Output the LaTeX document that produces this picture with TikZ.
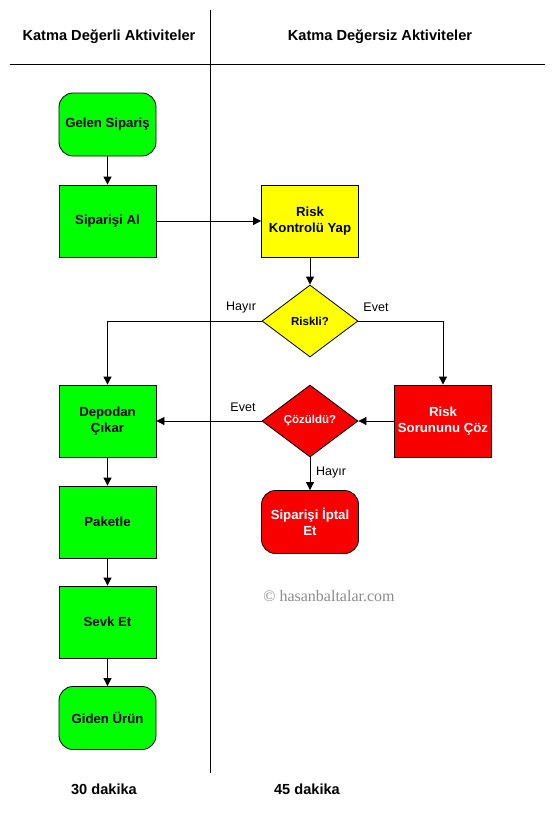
\documentclass[tikz,border=0pt]{standalone}
\usepackage{fontspec}
\setmainfont{Liberation Sans}
\newfontfamily\wmfont{Liberation Serif}
\usetikzlibrary{arrows.meta,shapes.geometric}
\definecolor{actgreen}{HTML}{00FF00}
\definecolor{actyellow}{HTML}{FFFF00}
\definecolor{actred}{HTML}{F80000}
\tikzset{
  box/.style={draw,line width=0.8pt,minimum width=97pt,minimum height=72pt,align=center,font=\bfseries\fontsize{13.2}{16}\selectfont},
  roundbox/.style={box,rounded corners=14pt,minimum height=63pt},
  decision/.style={draw,line width=0.8pt,diamond,inner sep=0pt,minimum width=96pt,minimum height=72pt,align=center,font=\bfseries\fontsize{11.5}{13}\selectfont},
  arr/.style={line width=0.8pt,-{Triangle[length=8pt,width=8pt]}},
  lbl/.style={font=\fontsize{12.5}{14}\selectfont},
  head/.style={font=\bfseries\fontsize{14.6}{16}\selectfont}
}
\begin{document}
\begin{tikzpicture}[x=1pt,y=-1pt]
  \useasboundingbox (0,0) rectangle (555,814);
  % swimlanes
  \draw[line width=0.8pt] (210,10) -- (210,773);
  \draw[line width=0.8pt] (10,64) -- (545,64);
  \node[head] (lefthead) at (109,37) {Katma Değerli Aktiviteler};
  \node[head] (righthead) at (380,37) {Katma Değersiz Aktiviteler};

  % value adding
  \node[roundbox,fill=actgreen] (gelen) at (107.5,124.5) {Gelen Sipariş};
  \node[box,fill=actgreen] (al) at (107.5,221) {Siparişi Al};
  \node[box,fill=actgreen] (depodan) at (107.5,421) {Depodan\\Çıkar};
  \node[box,fill=actgreen] (paketle) at (107.5,522) {Paketle};
  \node[box,fill=actgreen] (sevk) at (107.5,622) {Sevk Et};
  \node[roundbox,fill=actgreen] (giden) at (107.5,718) {Giden Ürün};

  % non value adding
  \node[box,fill=actyellow] (kontrol) at (310,221) {Risk\\Kontrolü Yap};
  \node[decision,fill=actyellow] (riskli) at (310,321) {Riskli?};
  \node[box,fill=actred,text=white] (sorun) at (443,421) {Risk\\Sorununu Çöz};
  \node[decision,fill=actred,text=white] (cozuldu) at (310,421) {Çözüldü?};
  \node[roundbox,fill=actred,text=white] (iptal) at (310,522) {Siparişi İptal\\Et};

  % arrows
  \draw[arr] (gelen) -- (al);
  \draw[arr] (al) -- (kontrol);
  \draw[arr] (kontrol) -- (riskli);
  \draw[arr] (riskli.west) -| (depodan);
  \draw[arr] (riskli.east) -| (sorun);
  \draw[arr] (sorun) -- (cozuldu);
  \draw[arr] (cozuldu) -- (depodan);
  \draw[arr] (cozuldu) -- (iptal);
  \draw[arr] (depodan) -- (paketle);
  \draw[arr] (paketle) -- (sevk);
  \draw[arr] (sevk) -- (giden);
  \node[lbl] (hayir1) at (241,307) {Hayır};
  \node[lbl] (evet1) at (376,307) {Evet};
  \node[lbl] (evet2) at (243,407) {Evet};
  \node[lbl] (hayir2) at (331,472) {Hayır};

  \node[font=\wmfont\fontsize{16}{18}\selectfont,text=black!45] (wm) at (329,596) {© hasanbaltalar.com};
  \node[head] (sure1) at (104,789) {30 dakika};
  \node[head] (sure2) at (307,789) {45 dakika};
\end{tikzpicture}
\end{document}
